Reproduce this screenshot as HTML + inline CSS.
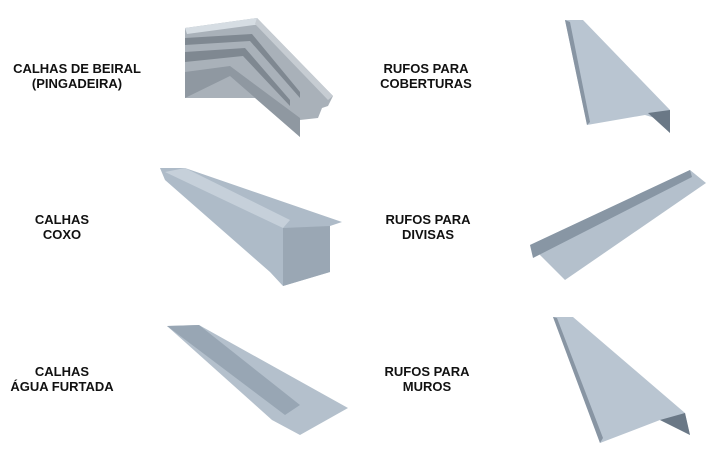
<!DOCTYPE html>
<html><head><meta charset="utf-8"><style>
html,body{margin:0;padding:0;background:#fff;}
body{width:719px;height:475px;position:relative;overflow:hidden;font-family:"Liberation Sans",Arial,sans-serif;}
.t{position:absolute;font-weight:bold;font-size:13px;line-height:14.5px;text-align:center;color:#111;width:200px;}
svg{position:absolute;left:0;top:0;}
</style></head><body>
<svg width="719" height="475" viewBox="0 0 719 475">
<!-- beiral -->
<polygon points="185,28 257,18 333,96 328,106 322,108 318,118 300,120 300,137 255,98 185,98" fill="#a9b1b9"/>
<polygon points="185,28 257,18 262,24 187,34" fill="#d6dde3"/>
<polygon points="185,38 252,34 300,92 300,98 250,41 185,45" fill="#7f8891"/>
<polygon points="185,52 245,48 290,100 290,106 243,56 185,62" fill="#7f8891"/>
<polygon points="185,72 230,66 300,118 300,137 230,76 185,98" fill="#8f98a1"/>
<polygon points="257,18 333,96 328,100 255,24" fill="#c6ccd2"/>
<!-- coberturas -->
<polygon points="565,20 583,20 670,110 670,133 655,118 645,115 587,125" fill="#b9c5d1"/>
<polygon points="565,20 570,22 590,122 587,125" fill="#8895a3"/>
<polygon points="648,113 670,110 670,133" fill="#6a7886"/>
<!-- coxo -->
<polygon points="160,168 185,168 342,222 330,226 330,272 283,286 270,272 165,180" fill="#aebbc8"/>
<polygon points="165,172 185,168 290,220 283,228" fill="#c6d0da"/>
<polygon points="283,228 330,226 330,272 283,286" fill="#9aa7b4"/>
<!-- divisas -->
<polygon points="530,245 690,170 706,183 565,280" fill="#b4c0cc"/>
<polygon points="530,245 690,170 692,177 533,258" fill="#8896a4"/>
<!-- furtada -->
<polygon points="167,326 199,325 348,408 300,435 272,420" fill="#b4c0cc"/>
<polygon points="167,326 199,325 300,405 285,415" fill="#98a6b4"/>
<!-- muros -->
<polygon points="553,317 573,317 685,413 690,435 660,420 600,443" fill="#b9c5d1"/>
<polygon points="553,317 557,318 603,438 600,443" fill="#8895a3"/>
<polygon points="660,420 685,413 690,435" fill="#6a7886"/>
</svg>
<div class="t" style="left:-23px;top:62px">CALHAS DE BEIRAL<br>(PINGADEIRA)</div>
<div class="t" style="left:326px;top:62px">RUFOS PARA<br>COBERTURAS</div>
<div class="t" style="left:-38px;top:213px">CALHAS<br>COXO</div>
<div class="t" style="left:328px;top:213px">RUFOS PARA<br>DIVISAS</div>
<div class="t" style="left:-38px;top:365px">CALHAS<br>ÁGUA FURTADA</div>
<div class="t" style="left:327px;top:365px">RUFOS PARA<br>MUROS</div>
</body></html>
